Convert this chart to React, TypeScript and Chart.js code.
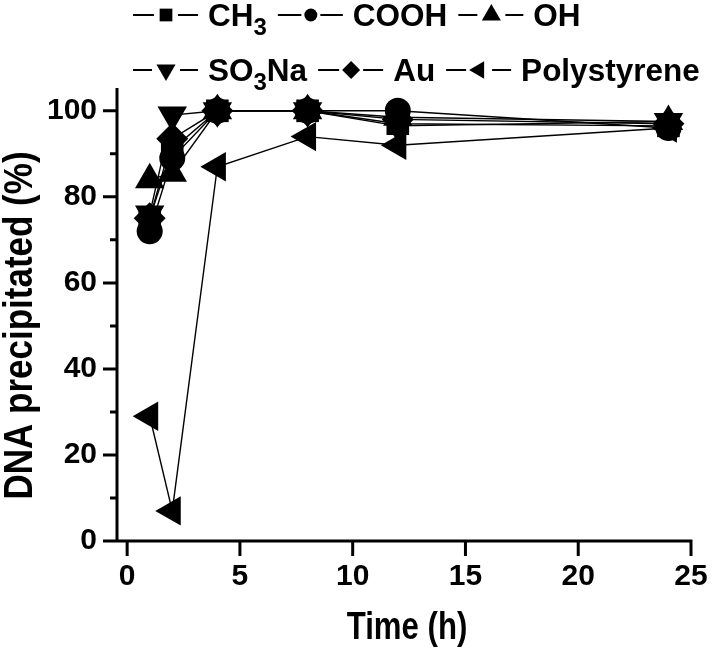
import React, { useEffect, useRef } from 'react';
import { Chart, registerables } from 'chart.js';

Chart.register(...registerables);

// ---- data ----
const times = [1, 2, 4, 8, 12, 24];
const seriesNames = ['CH₃', 'COOH', 'OH', 'SO₃Na', 'Au', 'Polystyrene'];
const ch3 = [75, 91, 100, 100, 97, 96.5];
const cooh = [72, 89, 100, 100, 100, 96];
const oh = [84, 85.5, 100, 100, 98.5, 97.5];
const so3na = [76, 99, 100, 100, 96.5, 97.5];
const au = [75, 93.5, 100, 100, 98, 97];
const polystyrene = [29, 7, 87, 94, 92, 96];

const xTicks = [0, 5, 10, 15, 20, 25];
const yTicks = [0, 20, 40, 60, 80, 100];
const yMinorTicks = [10, 30, 50, 70, 90];
const xTitle = 'Time (h)';
const yTitle = 'DNA precipitated (%)';

const FONT = '"Liberation Sans", Arial, Helvetica, sans-serif';

const styles = [
  { pointStyle: 'rect', rotation: 0, r: 16, lr: 9 },
  { pointStyle: 'circle', rotation: 0, r: 13, lr: 6.5 },
  { pointStyle: 'triangle', rotation: 0, r: 17, lr: 11 },
  { pointStyle: 'triangle', rotation: 180, r: 17, lr: 11 },
  { pointStyle: 'rectRot', rotation: 0, r: 16, lr: 9 },
  { pointStyle: 'triangle', rotation: 270, r: 17, lr: 10 },
];

function drawMarker(ctx: CanvasRenderingContext2D, style: string, rotDeg: number, x: number, y: number, r: number) {
  ctx.beginPath();
  if (style === 'circle') {
    ctx.arc(x, y, r, 0, Math.PI * 2);
  } else if (style === 'rect') {
    const s = Math.SQRT1_2 * r;
    ctx.rect(x - s, y - s, 2 * s, 2 * s);
  } else if (style === 'rectRot') {
    ctx.moveTo(x, y - r);
    ctx.lineTo(x + r, y);
    ctx.lineTo(x, y + r);
    ctx.lineTo(x - r, y);
    ctx.closePath();
  } else {
    let a = (rotDeg * Math.PI) / 180;
    for (let i = 0; i < 3; i++) {
      const px = x + Math.sin(a) * r;
      const py = y - Math.cos(a) * r;
      if (i === 0) ctx.moveTo(px, py);
      else ctx.lineTo(px, py);
      a += (2 * Math.PI) / 3;
    }
    ctx.closePath();
  }
  ctx.fill();
}

const SUBS = '₀₁₂₃₄₅₆₇₈₉';

function splitLabel(label: string) {
  const parts: { text: string; sub: boolean }[] = [];
  for (const ch of label) {
    const sub = SUBS.indexOf(ch) >= 0;
    const t = sub ? String(SUBS.indexOf(ch)) : ch;
    const last = parts[parts.length - 1];
    if (last && last.sub === sub) last.text += t;
    else parts.push({ text: t, sub });
  }
  return parts;
}

function drawRichText(ctx: CanvasRenderingContext2D, label: string, x: number, baseline: number) {
  let cx = x;
  for (const p of splitLabel(label)) {
    ctx.font = p.sub ? `bold 24px ${FONT}` : `bold 31.5px ${FONT}`;
    ctx.fillText(p.text, cx, p.sub ? baseline + 9 : baseline);
    cx += ctx.measureText(p.text).width;
  }
  return cx - x;
}

const customPlugin = {
  id: 'customDecor',
  beforeDatasetsDraw(chart: any) {
    const ctx: CanvasRenderingContext2D = chart.ctx;
    const { left, right, top, bottom } = chart.chartArea;
    const xs = chart.scales.x;
    const ys = chart.scales.y;
    ctx.save();
    ctx.strokeStyle = '#000';
    ctx.lineWidth = 3;
    ctx.lineCap = 'butt';
    ctx.beginPath();
    ctx.moveTo(left, top);
    ctx.lineTo(left, bottom + 1.5);
    ctx.moveTo(left - 13, bottom);
    ctx.lineTo(right + 1.5, bottom);
    for (const v of yTicks) {
      const py = ys.getPixelForValue(v);
      ctx.moveTo(left - 14, py);
      ctx.lineTo(left, py);
    }
    for (const v of yMinorTicks) {
      const py = ys.getPixelForValue(v);
      ctx.moveTo(left - 7, py);
      ctx.lineTo(left, py);
    }
    for (const v of xTicks) {
      const px = xs.getPixelForValue(v);
      ctx.moveTo(px, bottom);
      ctx.lineTo(px, bottom + 15);
    }
    ctx.stroke();
    ctx.restore();
  },
  afterDraw(chart: any) {
    const ctx: CanvasRenderingContext2D = chart.ctx;
    const { left, right, top, bottom } = chart.chartArea;
    ctx.save();
    ctx.fillStyle = '#000';
    // axis titles (narrow bold)
    ctx.textAlign = 'center';
    ctx.textBaseline = 'middle';
    ctx.save();
    ctx.font = `bold 38px ${FONT}`;
    ctx.translate((left + right) / 2 + 3, 629);
    ctx.scale(0.82, 1);
    ctx.fillText(xTitle, 0, 0);
    ctx.restore();
    ctx.save();
    ctx.font = `bold 40px ${FONT}`;
    ctx.translate(21, (top + bottom) / 2 + 11);
    ctx.rotate(-Math.PI / 2);
    ctx.scale(0.875, 1);
    ctx.fillText(yTitle, 0, 0);
    ctx.restore();

    // legend
    const rows = [[0, 1, 2], [3, 4, 5]];
    const rowY = [15, 70];
    ctx.textAlign = 'left';
    ctx.textBaseline = 'alphabetic';
    rows.forEach((row, ri) => {
      let x = 133;
      const y = rowY[ri];
      row.forEach((di) => {
        const ds = chart.data.datasets[di];
        const st = styles[di];
        const mx = x + 33;
        const gap = st.lr + 3;
        ctx.strokeStyle = '#000';
        ctx.lineWidth = 2;
        ctx.beginPath();
        ctx.moveTo(x, y);
        ctx.lineTo(mx - gap, y);
        ctx.moveTo(mx + gap, y);
        ctx.lineTo(x + 65, y);
        ctx.stroke();
        drawMarker(ctx, st.pointStyle, st.rotation, mx, y, st.lr);
        const w = drawRichText(ctx, ds.label, x + 75, y + 11);
        x = x + 75 + w + 11;
      });
    });
    ctx.restore();
  },
};

export default function App() {
  const canvasRef = useRef<HTMLCanvasElement | null>(null);

  useEffect(() => {
    const canvas = canvasRef.current;
    if (!canvas) return;
    const seriesValues = [ch3, cooh, oh, so3na, au, polystyrene];
    const datasets = seriesValues.map((vals, i) => ({
      label: seriesNames[i],
      data: times.map((t, j) => ({ x: t, y: vals[j] })),
      borderColor: '#000',
      backgroundColor: '#000',
      borderWidth: 1.4,
      pointStyle: styles[i].pointStyle as any,
      pointRotation: styles[i].rotation,
      pointRadius: styles[i].r,
      pointBackgroundColor: '#000',
      pointBorderColor: '#000',
      pointBorderWidth: 0,
      fill: false,
      tension: 0,
    }));
    const tickFont = { family: FONT, size: 30, weight: 'bold' as const };
    const chart = new Chart(canvas, {
      type: 'line',
      data: { datasets },
      options: {
        animation: false,
        responsive: false,
        maintainAspectRatio: false,
        devicePixelRatio: 1,
        layout: { padding: { top: 88, right: 22, bottom: 0, left: 0 } },
        plugins: {
          legend: { display: false },
          tooltip: { enabled: false },
        },
        scales: {
          x: {
            type: 'linear',
            min: -0.45,
            max: 25,
            afterBuildTicks: (s: any) => {
              s.ticks = xTicks.map((v) => ({ value: v }));
            },
            afterFit: (s: any) => {
              s.height = 107;
            },
            ticks: { font: tickFont, color: '#000', padding: 3, maxRotation: 0, autoSkip: false },
            grid: { display: false, drawTicks: true, tickLength: 15 },
            border: { display: false },
          },
          y: {
            type: 'linear',
            min: 0,
            max: 105.3,
            afterBuildTicks: (s: any) => {
              s.ticks = yTicks.map((v) => ({ value: v }));
            },
            afterFit: (s: any) => {
              s.width = 117;
            },
            ticks: { font: tickFont, color: '#000', padding: 6, autoSkip: false },
            grid: { display: false, drawTicks: true, tickLength: 14 },
            border: { display: false },
          },
        },
      },
      plugins: [customPlugin],
    });
    return () => chart.destroy();
  }, []);

  return (
    <div style={{ position: 'absolute', left: 0, top: 0, width: 713, height: 648, background: '#fff' }}>
      <canvas ref={canvasRef} width={713} height={648} style={{ width: 713, height: 648, display: 'block' }} />
    </div>
  );
}
